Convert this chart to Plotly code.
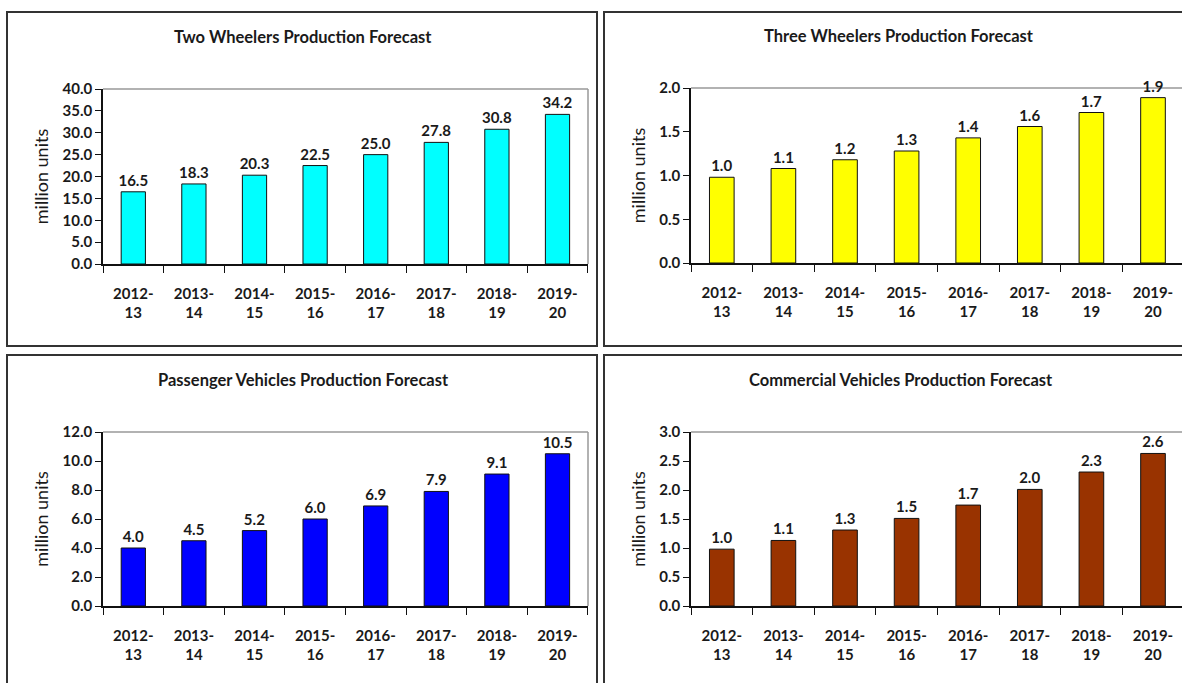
import plotly.graph_objects as go

W, H = 1182, 683

categories = ["2012-13", "2013-14", "2014-15", "2015-16", "2016-17", "2017-18", "2018-19", "2019-20"]
tick_labels = ["2012-<br>13", "2013-<br>14", "2014-<br>15", "2015-<br>16",
               "2016-<br>17", "2017-<br>18", "2018-<br>19", "2019-<br>20"]

two_wheelers = [16.5, 18.3, 20.3, 22.5, 25.0, 27.8, 30.8, 34.2]
three_wheelers = [0.98, 1.08, 1.18, 1.28, 1.43, 1.56, 1.72, 1.89]
passenger_vehicles = [4.0, 4.5, 5.2, 6.0, 6.9, 7.9, 9.1, 10.5]
commercial_vehicles = [0.98, 1.13, 1.31, 1.51, 1.74, 2.01, 2.31, 2.63]

titles = ["Two Wheelers Production Forecast", "Three Wheelers Production Forecast",
          "Passenger Vehicles Production Forecast", "Commercial Vehicles Production Forecast"]
y_title = "million units"

FONT = "Lato"
TXT = "#1a1a1a"


def px(x):
    return x / W


def py(y):
    return 1 - y / H


panels = [
    dict(series=two_wheelers, color="#00FFFF", ymax=40, dtick=5,
         l=103, r=588, t=89, b=264, cw=60.6, box=(7, 12, 597, 346), tx=303, ty=37),
    dict(series=three_wheelers, color="#FFFF00", ymax=2, dtick=0.5,
         l=691, r=1182, t=88, b=263, cw=61.6, box=(604, 12, 1200, 346), tx=899, ty=36),
    dict(series=passenger_vehicles, color="#0000FF", ymax=12, dtick=2,
         l=103, r=588, t=432, b=606, cw=60.6, box=(7, 355, 597, 700), tx=304, ty=380),
    dict(series=commercial_vehicles, color="#993300", ymax=3, dtick=0.5,
         l=691, r=1182, t=432, b=606, cw=61.6, box=(604, 355, 1200, 700), tx=901, ty=380),
]

fig = go.Figure()
shapes = []
annotations = []

for i, p in enumerate(panels):
    n = i + 1
    xa = "x" if n == 1 else f"x{n}"
    ya = "y" if n == 1 else f"y{n}"
    fig.add_trace(go.Bar(
        x=categories, y=p["series"], xaxis=xa, yaxis=ya,
        marker=dict(color=p["color"], line=dict(color="#111111", width=1)),
        texttemplate="%{y:.1f}", textposition="outside", constraintext="none",
        textfont=dict(family=FONT, size=15, color=TXT, weight="bold"),
        cliponaxis=False, showlegend=False, hoverinfo="skip",
    ))
    xrange_end = -0.5 + (p["r"] - p["l"]) / p["cw"]
    xkey = "xaxis" if n == 1 else f"xaxis{n}"
    ykey = "yaxis" if n == 1 else f"yaxis{n}"
    fig.update_layout(**{
        xkey: dict(domain=[px(p["l"]), px(p["r"])], anchor=ya, type="category",
                   range=[-0.5, xrange_end], tickmode="array", tickvals=categories,
                   ticktext=tick_labels, tickson="boundaries", ticks="outside",
                   ticklen=7, tickcolor="#111111", showline=True, linecolor="#111111",
                   linewidth=1.5, showgrid=False, zeroline=False, automargin=False,
                   ticklabelstandoff=15,
                   tickfont=dict(family=FONT, size=15, color=TXT, weight="bold")),
        ykey: dict(domain=[py(p["b"]), py(p["t"])], anchor=xa, range=[0, p["ymax"]],
                   dtick=p["dtick"], tickformat=".1f", ticks="outside", ticklen=6,
                   tickcolor="#111111", showline=True, linecolor="#111111", linewidth=1.5,
                   showgrid=False, zeroline=False, automargin=False,
                   tickfont=dict(family=FONT, size=15, color=TXT, weight="bold"),
                   title=dict(text=y_title, standoff=9,
                              font=dict(family=FONT, size=18, color=TXT))),
    })
    shapes.append(dict(type="line", xref="paper", yref="paper",
                       x0=px(p["l"]), x1=px(p["r"]), y0=py(p["t"]), y1=py(p["t"]),
                       line=dict(color="#999999", width=1.5), layer="below"))
    if p["r"] < W:
        shapes.append(dict(type="line", xref="paper", yref="paper",
                           x0=px(p["r"]), x1=px(p["r"]), y0=py(p["t"]), y1=py(p["b"]),
                           line=dict(color="#999999", width=1.5), layer="below"))
    bx0, by0, bx1, by1 = p["box"]
    shapes.append(dict(type="rect", xref="paper", yref="paper",
                       x0=px(bx0), x1=px(bx1), y0=py(by1), y1=py(by0),
                       line=dict(color="#333333", width=2), fillcolor="rgba(0,0,0,0)"))
    annotations.append(dict(text=titles[i], xref="paper", yref="paper",
                            x=px(p["tx"]), y=py(p["ty"]), xanchor="center", yanchor="middle",
                            showarrow=False,
                            font=dict(family=FONT, size=16.5, color=TXT, weight="bold")))

fig.update_layout(
    width=W, height=H,
    margin=dict(l=0, r=0, t=0, b=0),
    paper_bgcolor="white", plot_bgcolor="white",
    bargap=0.6,
    shapes=shapes, annotations=annotations,
    showlegend=False,
)

fig.write_html("out.html")
